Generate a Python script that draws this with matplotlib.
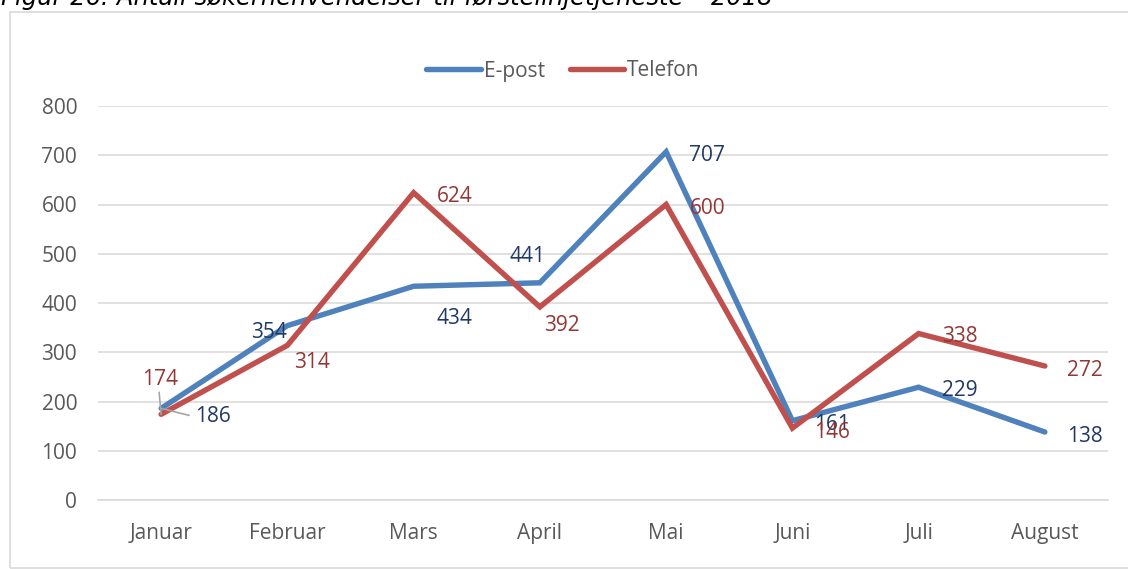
import matplotlib
matplotlib.use("Agg")
import matplotlib.pyplot as plt
from matplotlib.patches import Rectangle

months = ["Januar", "Februar", "Mars", "April", "Mai", "Juni", "Juli", "August"]
epost = [186, 354, 434, 441, 707, 161, 229, 138]
telefon = [174, 314, 624, 392, 600, 146, 338, 272]
yticks = [0, 100, 200, 300, 400, 500, 600, 700, 800]
title = "Figur 26: Antall søkerhenvendelser til førstelinjetjeneste – 2018"

# label offsets in pixels (dx, dy)
epost_off = [(52, -8), (-18, -7), (41, -32), (-12, 26), (41, -4), (40, -4), (41, -3), (40, -4)]
tel_off = [(-1, 35), (25, -17), (41, -4), (22, -19), (42, -4), (40, -4), (41, -3), (40, -4)]

BLUE = "#4F81BD"
RED = "#C0504D"
BLUE_T = "#1F3864"
RED_T = "#943634"
GRID = "#D9D9D9"
TXT = "#595959"
FONT = "Open Sans"
FS = 15

fig = plt.figure(figsize=(11.28, 5.69), dpi=100)
fig.patches.append(Rectangle((10/1128, 0.002), 1.2, 1 - 12/569 - 0.002,
                             transform=fig.transFigure, fill=False,
                             edgecolor="#D9D9D9", linewidth=1.2))
fig.text(1/1128, 1 - 5/569, title, fontsize=17.5, style="italic", color="#000000",
         family="DejaVu Sans", ha="left", va="baseline")

ax = fig.add_axes([98/1128, 1 - 500/569, (1108 - 98)/1128, (500 - 106)/569])
x = list(range(len(months)))
l1, = ax.plot(x, epost, color=BLUE, lw=3.9, solid_joinstyle="miter",
              solid_capstyle="round", label="E-post", zorder=3)
l2, = ax.plot(x, telefon, color=RED, lw=3.9, solid_joinstyle="miter",
              solid_capstyle="round", label="Telefon", zorder=3)

ax.set_xlim(-0.5, len(months) - 0.5)
ax.set_ylim(0, 800)
ax.set_yticks(yticks)
ax.set_xticks(x)
ax.set_xticklabels(months)
ax.tick_params(axis="both", length=0, labelsize=FS, labelcolor=TXT)
for lab in ax.get_xticklabels() + ax.get_yticklabels():
    lab.set_family(FONT)
ax.tick_params(axis="y", pad=15)
ax.tick_params(axis="x", pad=16.5)
ax.grid(axis="y", color=GRID, lw=1.1)
ax.set_axisbelow(True)
for s in ["left", "right", "top"]:
    ax.spines[s].set_visible(False)
ax.spines["bottom"].set_color(GRID)
ax.spines["bottom"].set_linewidth(1.1)

for i, v in enumerate(epost):
    ax.annotate(str(v), (i, v), xytext=epost_off[i], textcoords="offset pixels",
                ha="center", va="center", fontsize=FS, family=FONT, color=BLUE_T, zorder=5)
for i, v in enumerate(telefon):
    ax.annotate(str(v), (i, v), xytext=tel_off[i], textcoords="offset pixels",
                ha="center", va="center", fontsize=FS, family=FONT, color=RED_T, zorder=5)

# leader lines for January labels
ax.annotate("", (0, epost[0]), xytext=(28, -7), textcoords="offset pixels",
            arrowprops=dict(arrowstyle="-", color="#A6A6A6", lw=1.2, shrinkA=0, shrinkB=0))
ax.annotate("", (0, telefon[0]), xytext=(-2, 22), textcoords="offset pixels",
            arrowprops=dict(arrowstyle="-", color="#A6A6A6", lw=1.2, shrinkA=0, shrinkB=0))

fig.legend(handles=[l1, l2], loc="center", bbox_to_anchor=(563/1128, 1 - 71/569),
           ncol=2, frameon=False, prop={"family": FONT, "size": FS},
           handlelength=2.6, handletextpad=0.15, columnspacing=1.2, labelcolor=TXT)

fig.savefig("out.png", dpi=100)
